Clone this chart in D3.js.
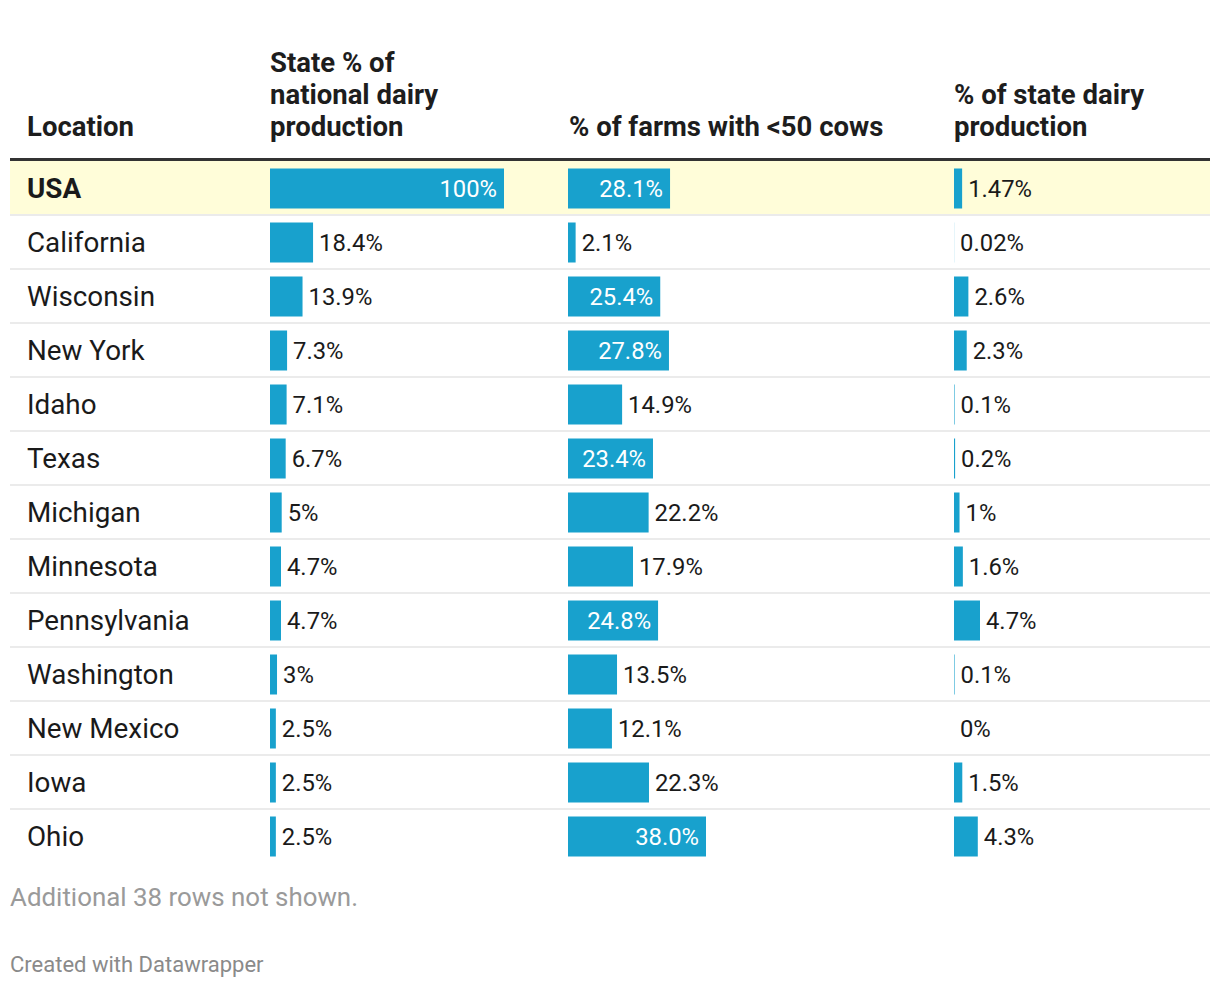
<!DOCTYPE html>
<html><head><meta charset="utf-8">
<script src="https://cdn.jsdelivr.net/npm/d3@7"></script>
<style>
body{margin:0;background:#fff;}
svg text{font-family:Roboto,"Noto Sans",sans-serif;}
</style></head>
<body><svg id="c" width="1220" height="988"></svg>
<script>
const locations = ["USA","California","Wisconsin","New York","Idaho","Texas","Michigan","Minnesota","Pennsylvania","Washington","New Mexico","Iowa","Ohio"];
const nationalShare = [100,18.4,13.9,7.3,7.1,6.7,5,4.7,4.7,3,2.5,2.5,2.5];
const nationalLabels = ["100%","18.4%","13.9%","7.3%","7.1%","6.7%","5%","4.7%","4.7%","3%","2.5%","2.5%","2.5%"];
const smallFarms = [28.1,2.1,25.4,27.8,14.9,23.4,22.2,17.9,24.8,13.5,12.1,22.3,38.0];
const smallFarmLabels = ["28.1%","2.1%","25.4%","27.8%","14.9%","23.4%","22.2%","17.9%","24.8%","13.5%","12.1%","22.3%","38.0%"];
const stateShare = [1.47,0.02,2.6,2.3,0.1,0.2,1,1.6,4.7,0.1,0,1.5,4.3];
const stateShareLabels = ["1.47%","0.02%","2.6%","2.3%","0.1%","0.2%","1%","1.6%","4.7%","0.1%","0%","1.5%","4.3%"];
const headers = [["Location"],["State % of","national dairy","production"],["% of farms with <50 cows"],["% of state dairy","production"]];

const svg = d3.select("#c");
const left = 10, right = 1210, rowTop0 = 161, rowH = 54;
const y = d3.scaleBand().domain(locations).range([rowTop0, rowTop0 + rowH*locations.length]).paddingInner(0);
const barColor = "#18a1cd";

// header
const headerX = [27, 270, 569, 954];
const lastBase = 136, lineH = 32;
headers.forEach((lines, i) => {
  const t = svg.append("text").attr("x", headerX[i]).attr("font-weight", 700).attr("font-size", 27.5).attr("fill", "#1d1d1d");
  lines.forEach((l, j) => {
    t.append("tspan").attr("x", headerX[i]).attr("y", lastBase - (lines.length-1-j)*lineH).text(l);
  });
});

// highlight row
svg.append("rect").attr("x", left).attr("y", y("USA")).attr("width", right-left).attr("height", y.bandwidth()).attr("fill", "#fffdd9");

// separators
svg.selectAll("line.sep").data(locations.slice(0, -1)).join("line")
  .attr("x1", left).attr("x2", right)
  .attr("y1", d => y(d)+y.bandwidth()).attr("y2", d => y(d)+y.bandwidth())
  .attr("stroke", "#ebebeb").attr("stroke-width", 2);

// header line
svg.append("line").attr("x1", left).attr("x2", right).attr("y1", 159.5).attr("y2", 159.5).attr("stroke", "#333").attr("stroke-width", 3);

// location names
svg.selectAll("text.loc").data(locations).join("text")
  .attr("x", 27).attr("y", d => y(d)+y.bandwidth()/2).attr("dy", "0.36em")
  .attr("font-size", 27.8).attr("font-weight", (d,i) => i===0 ? 700 : 400)
  .attr("fill", "#1a1a1a").text(d => d);

function barColumn(values, labels, x0, width) {
  const max = d3.max(values);
  const x = d3.scaleLinear().domain([0, max]).range([x0, x0+width]);
  const g = svg.append("g");
  const barH = 40;
  g.selectAll("rect").data(values).join("rect")
    .attr("x", x0).attr("y", (d,i) => y(locations[i]) + (y.bandwidth()-barH)/2 + 0.5)
    .attr("width", d => x(d)-x0).attr("height", barH).attr("fill", barColor);
  g.selectAll("text").data(values).join("text")
    .attr("y", (d,i) => y(locations[i]) + y.bandwidth()/2).attr("dy", "0.36em")
    .attr("font-size", 23.8)
    .each(function(d,i){
      const inside = (x(d)-x0) >= 83;
      d3.select(this)
        .attr("x", inside ? x(d)-7 : x(d)+6)
        .attr("text-anchor", inside ? "end" : "start")
        .attr("fill", inside ? "#fff" : "#1a1a1a")
        .text(labels[i]);
    });
}
barColumn(nationalShare, nationalLabels, 270, 234);
barColumn(smallFarms, smallFarmLabels, 568, 138);
barColumn(stateShare, stateShareLabels, 954, 26);

svg.append("text").attr("x", 10).attr("y", 906).attr("font-size", 25.9).attr("fill", "#9a9a9a").text("Additional 38 rows not shown.");
svg.append("text").attr("x", 10).attr("y", 972).attr("font-size", 22).attr("fill", "#8a8a8a").text("Created with Datawrapper");
</script></body></html>
